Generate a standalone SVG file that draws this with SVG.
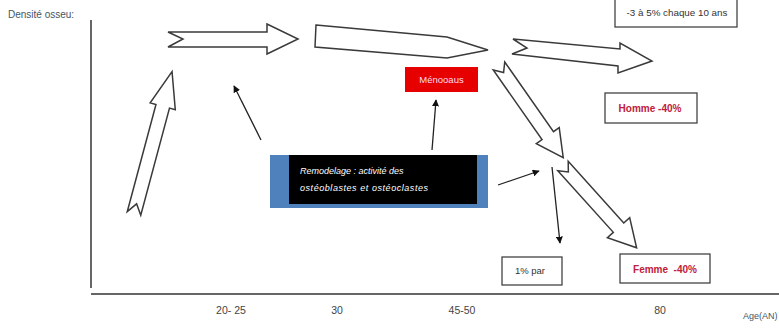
<svg xmlns="http://www.w3.org/2000/svg" width="779" height="328" viewBox="0 0 779 328">
<defs>
<style>
.t{font-family:"Liberation Sans",Arial,sans-serif;font-size:9px;fill:#333}
.ax{font-size:10.5px;fill:#444}
.big{fill:#fff;stroke:#3a3a3a;stroke-width:1.5;stroke-linejoin:miter}
.thin{stroke:#222;stroke-width:1.3;fill:none;marker-end:url(#ah)}
.box{fill:#fff;stroke:#444;stroke-width:1.3}
.red{fill:#c0203a;font-weight:bold;font-size:10px}
</style>
<marker id="ah" viewBox="0 0 10 10" refX="9" refY="5" markerWidth="7" markerHeight="7" orient="auto" markerUnits="userSpaceOnUse">
<path d="M0,0 L10,5 L0,10 Z" fill="#111"/>
</marker>
</defs>
<rect width="779" height="328" fill="#fff"/>
<g id="axes">
<line x1="91" y1="20" x2="91" y2="288" stroke="#666" stroke-width="2"/>
<line x1="91" y1="294" x2="779" y2="294" stroke="#666" stroke-width="2"/>
<text class="t" x="8" y="18" style="fill:#456;font-size:10px">Densité osseu:</text>
<text class="t ax" x="231" y="314" text-anchor="middle">20- 25</text>
<text class="t ax" x="337" y="314" text-anchor="middle">30</text>
<text class="t ax" x="462" y="314" text-anchor="middle">45-50</text>
<text class="t ax" x="660" y="314" text-anchor="middle">80</text>
<text class="t" x="743" y="319" style="fill:#456">Age(AN)</text>
</g>
<g id="connectors">
<path id="a1" class="big" transform="translate(134,213.5) rotate(-75)" d="M0,-7 L111,-7 L111,-13 L147,0 L111,13 L111,7 L0,7 L10,0 Z"/>
<path id="a2" class="big" d="M168,32 L267,32 L267,24 L298,39 L267,54 L267,47 L168,47 L183,39 Z"/>
<path id="a3" class="big" d="M316,25 L447,37 L488,50 L447,58 L315,47 Z"/>
<path id="a4" class="big" d="M513,39 L620,49 L620,43 L652,61 L618,73 L618,66 L512,54 L527,48 Z"/>
<path id="a5" class="big" transform="translate(499,66) rotate(55)" d="M0,-7 L85,-7 L85,-14 L112,0 L85,14 L85,7 L0,7 L8,0 Z"/>
<path id="a6" class="big" transform="translate(563,166) rotate(48)" d="M0,-7 L83,-7 L83,-15 L110,0 L83,15 L83,7 L0,7 L8,0 Z"/>
<line class="thin" x1="261" y1="140" x2="234" y2="86"/>
<line class="thin" x1="432" y1="150" x2="436" y2="100"/>
<line class="thin" x1="498" y1="185" x2="539" y2="171"/>
<line class="thin" x1="552" y1="167" x2="560" y2="243"/>
</g>
<g id="n-rate">
<rect class="box" x="615" y="-2" width="122" height="29"/>
<text class="t" x="677" y="16" text-anchor="middle" style="font-size:9.8px">-3 à 5% chaque 10 ans</text>
</g>
<g id="n-menopause">
<rect x="405" y="67" width="73" height="25" fill="#e60000"/>
<text class="t" x="441.5" y="83" text-anchor="middle" style="fill:#fde;font-size:9.5px">Ménooaus</text>
</g>
<g id="n-homme">
<rect class="box" x="605" y="93" width="92" height="30"/>
<text class="t red" x="650" y="112" text-anchor="middle">Homme -40%</text>
</g>
<g id="n-remodelage">
<rect x="270" y="155" width="218" height="53" fill="#4f81bd"/>
<rect x="289" y="155" width="188" height="49" fill="#000"/>
<text class="t" x="300" y="174" font-style="italic" style="fill:#fff">Remodelage : activité des</text>
<text class="t" x="300" y="191" font-style="italic" style="fill:#fff" textLength="128">ostéoblastes et ostéoclastes</text>
</g>
<g id="n-1pct">
<rect class="box" x="502" y="257" width="60" height="28"/>
<text class="t" x="530" y="274" text-anchor="middle" style="font-size:9.5px">1% par</text>
</g>
<g id="n-femme">
<rect class="box" x="620" y="254" width="90" height="29"/>
<text class="t red" x="665" y="273" text-anchor="middle" xml:space="preserve">Femme  -40%</text>
</g>
</svg>
